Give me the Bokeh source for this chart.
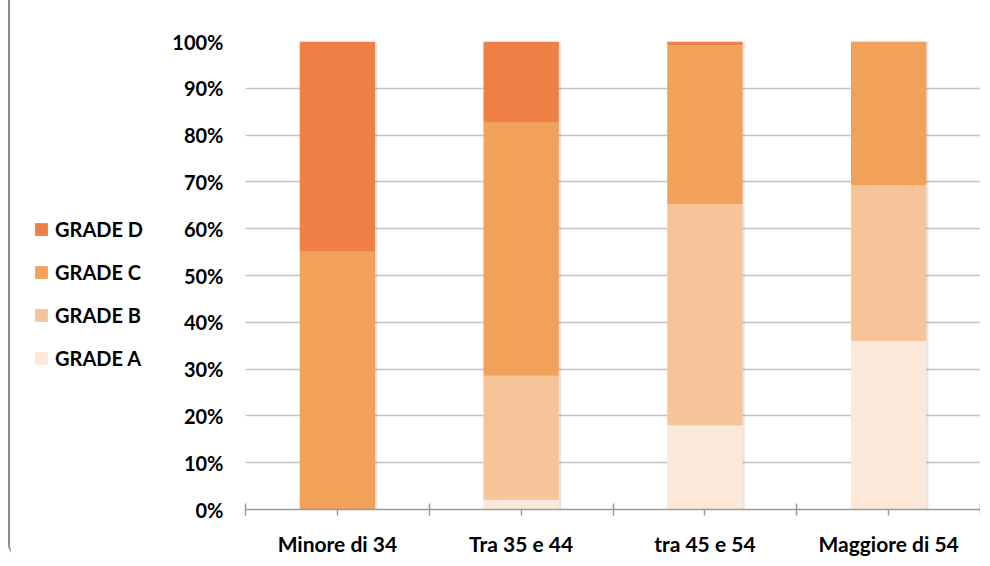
from bokeh.plotting import figure
from bokeh.layouts import row
from bokeh.models import Range1d, FixedTicker, Legend, LegendItem, ColumnDataSource
from bokeh.transform import dodge
from bokeh.embed import file_html
from bokeh.resources import INLINE

categories = ["Minore di 34", "Tra 35 e 44", "tra 45 e 54", "Maggiore di 54"]
grade_a = [0.0, 2.1, 18.0, 36.0]
grade_b = [0.0, 26.5, 47.3, 33.3]
grade_c = [55.1, 54.2, 33.9, 30.7]
grade_d = [44.9, 17.2, 0.8, 0.0]
series_names = ["GRADE A", "GRADE B", "GRADE C", "GRADE D"]
colors = ["#FCE8D9", "#F6C498", "#F2A15A", "#EE7F45"]
y_ticks = [0, 10, 20, 30, 40, 50, 60, 70, 80, 90, 100]

FONT = "Lato"
FSIZE = "20px"
H = 558

x_pos = [i + 0.5 for i in range(len(categories))]
totals = [a + b + c + d for a, b, c, d in zip(grade_a, grade_b, grade_c, grade_d)]
source = ColumnDataSource(dict(x=x_pos, a=grade_a, b=grade_b, c=grade_c, d=grade_d, total=totals))

# ---- main chart ----
p = figure(width=822, height=H, output_backend="svg", toolbar_location=None,
           x_range=Range1d(0, len(categories)), y_range=Range1d(0, 100),
           min_border_left=87, min_border_right=0, min_border_top=41, min_border_bottom=45)
p.outline_line_color = None

# soft shadow on the right side of each bar
p.vbar(x=dodge("x", 0.012, range=p.x_range), top="total", width=0.41, source=source,
       fill_color="#000000", fill_alpha=0.10, line_color=None)

renderers = p.vbar_stack(["a", "b", "c", "d"], x="x", width=0.41, source=source,
                         color=colors, line_color=None)

p.xaxis.ticker = FixedTicker(ticks=x_pos, minor_ticks=list(range(len(categories) + 1)))
p.xaxis.major_label_overrides = {x: c for x, c in zip(x_pos, categories)}
p.xaxis.major_label_text_font = FONT
p.xaxis.major_label_text_font_style = "bold"
p.xaxis.major_label_text_font_size = "21px"
p.xaxis.major_label_text_color = "#000000"
p.xaxis.major_label_standoff = 15
p.xaxis.axis_line_color = "#9a9a9a"
p.xaxis.axis_line_width = 1.5
p.xaxis.major_tick_in = 0
p.xaxis.major_tick_out = 6
p.xaxis.major_tick_line_color = "#9a9a9a"
p.xaxis.major_tick_line_width = 1.5
p.xaxis.minor_tick_in = 6
p.xaxis.minor_tick_out = 6
p.xaxis.minor_tick_line_color = "#9a9a9a"
p.xaxis.minor_tick_line_width = 1.5

p.yaxis.ticker = FixedTicker(ticks=y_ticks)
p.yaxis.major_label_overrides = {t: f"{t}%" for t in y_ticks}
p.yaxis.major_label_text_font = FONT
p.yaxis.major_label_text_font_style = "bold"
p.yaxis.major_label_text_font_size = FSIZE
p.yaxis.major_label_text_color = "#000000"
p.yaxis.major_label_standoff = 22
p.yaxis.axis_line_color = None
p.yaxis.major_tick_in = 0
p.yaxis.major_tick_out = 0
p.yaxis.minor_tick_in = 0
p.yaxis.minor_tick_out = 0
p.yaxis.major_tick_line_color = None
p.yaxis.minor_tick_line_color = None

p.xgrid.grid_line_color = None
p.ygrid.grid_line_color = "#c4c4c4"
p.ygrid.grid_line_width = 1.5
p.ygrid.ticker = FixedTicker(ticks=y_ticks)

# ---- legend panel ----
lf = figure(width=150, height=H, output_backend="svg", toolbar_location=None,
            x_range=Range1d(0, len(categories)), y_range=Range1d(0, 100),
            x_axis_location=None, y_axis_location=None,
            min_border_left=0, min_border_right=0, min_border_top=0, min_border_bottom=0)
lf.outline_line_color = None
lf.grid.grid_line_color = None
lf.styles = {"border-left": "2px solid #8c8c8c", "border-bottom-left-radius": "14px"}

swatches = lf.vbar_stack(["a", "b", "c", "d"], x="x", width=0.41, source=source,
                         color=colors, line_color=None, visible=False)

items = [LegendItem(label=series_names[i], renderers=[swatches[i]]) for i in [3, 2, 1, 0]]
legend = Legend(items=items, location=(23, 139), orientation="vertical",
                glyph_width=16, glyph_height=16, label_height=20,
                spacing=19, label_standoff=6, padding=0, margin=0,
                label_text_font=FONT, label_text_font_style="bold",
                label_text_font_size=FSIZE, label_text_color="#000000",
                label_text_baseline="middle",
                inactive_fill_alpha=0,
                border_line_color=None, background_fill_alpha=0)
lf.add_layout(legend, "center")

layout = row(lf, p, spacing=0)
layout.styles = {"margin-left": "8px"}

open("out.html", "w").write(file_html(layout, INLINE))
